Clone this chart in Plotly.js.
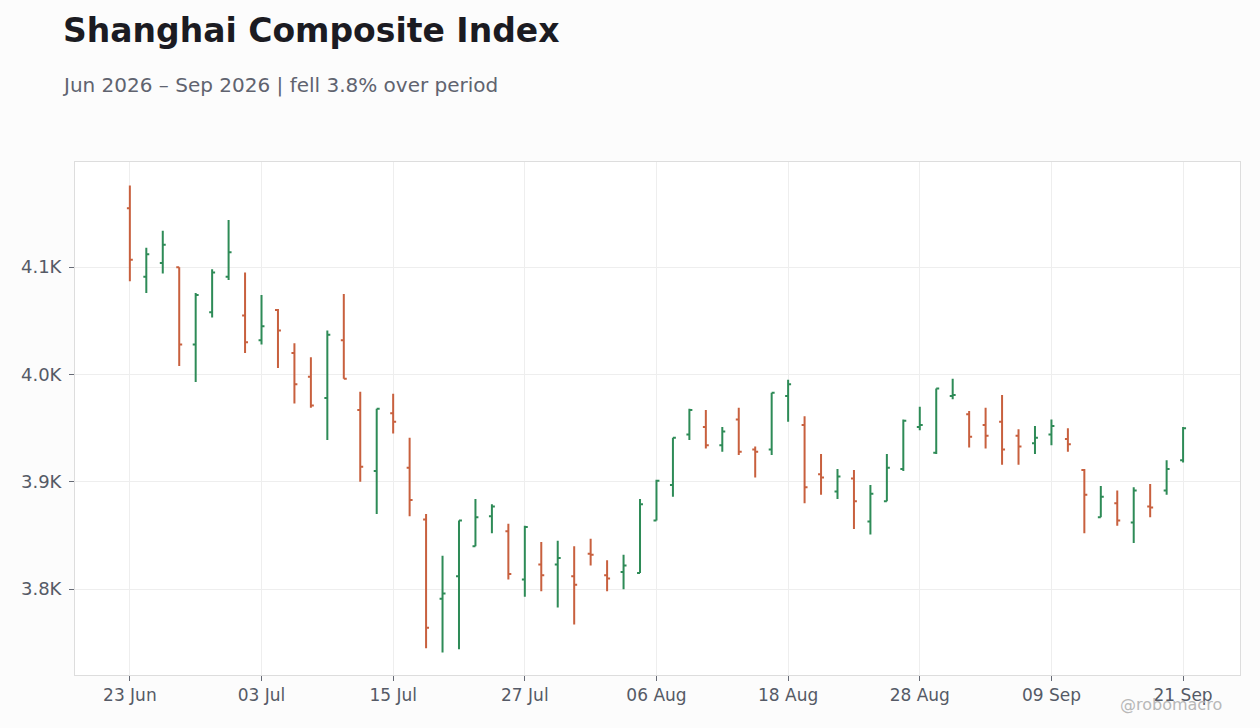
<!DOCTYPE html>
<html>
<head>
<meta charset="utf-8">
<script src="https://cdn.plot.ly/plotly-3.0.1.min.js"></script>
<style>
  html, body { margin: 0; padding: 0; background: #fcfcfc; }
  #chart { width: 1260px; height: 728px; }
</style>
</head>
<body>
<div id="chart"></div>
<script>
// trading days (weekdays only)
const dates = [
  '2026-06-23','2026-06-24','2026-06-25','2026-06-26','2026-06-29','2026-06-30',
  '2026-07-01','2026-07-02','2026-07-03','2026-07-06','2026-07-07','2026-07-08','2026-07-09','2026-07-10',
  '2026-07-13','2026-07-14','2026-07-15','2026-07-16','2026-07-17','2026-07-20','2026-07-21','2026-07-22',
  '2026-07-23','2026-07-24','2026-07-27','2026-07-28','2026-07-29','2026-07-30','2026-07-31',
  '2026-08-03','2026-08-04','2026-08-05','2026-08-06','2026-08-07','2026-08-10','2026-08-11','2026-08-12',
  '2026-08-13','2026-08-14','2026-08-17','2026-08-18','2026-08-19','2026-08-20','2026-08-21','2026-08-24',
  '2026-08-25','2026-08-26','2026-08-27','2026-08-28','2026-08-31',
  '2026-09-01','2026-09-02','2026-09-03','2026-09-04','2026-09-07','2026-09-08','2026-09-09','2026-09-10',
  '2026-09-11','2026-09-14','2026-09-15','2026-09-16','2026-09-17','2026-09-18','2026-09-21'
];

const openVals = [
  4155, 4091, 4104, 4100, 4028, 4058, 4091, 4055, 4032, 4060,
  4020, 3998, 3978, 4032, 3967, 3910, 3964, 3913, 3865, 3791,
  3812, 3840, 3868, 3854, 3809, 3823, 3823, 3812, 3833, 3813,
  3816, 3815, 3864, 3897, 3944, 3951, 3934, 3958, 3930, 3930,
  3980, 3953, 3907, 3891, 3903, 3863, 3882, 3912, 3951, 3927,
  3980, 3963, 3953, 3956, 3943, 3936, 3944, 3940, 3911, 3867,
  3880, 3862, 3877, 3892, 3920
];
const highVals = [
  4176, 4118, 4134, 4100, 4076, 4098, 4144, 4095, 4074, 4061,
  4029, 4016, 4041, 4075, 3984, 3968, 3982, 3941, 3870, 3831,
  3864, 3884, 3879, 3861, 3859, 3844, 3845, 3840, 3847, 3827,
  3832, 3884, 3902, 3941, 3968, 3967, 3951, 3969, 3933, 3983,
  3995, 3961, 3926, 3912, 3911, 3897, 3926, 3958, 3970, 3987,
  3996, 3966, 3969, 3981, 3949, 3952, 3958, 3950, 3912, 3896,
  3892, 3895, 3898, 3920, 3951
];
const lowVals = [
  4087, 4076, 4094, 4008, 3993, 4053, 4088, 4020, 4028, 4006,
  3973, 3969, 3939, 3996, 3900, 3870, 3945, 3868, 3745, 3741,
  3744, 3840, 3852, 3809, 3793, 3798, 3783, 3767, 3822, 3798,
  3800, 3815, 3864, 3886, 3939, 3931, 3928, 3925, 3904, 3925,
  3956, 3880, 3888, 3884, 3856, 3851, 3882, 3910, 3948, 3926,
  3977, 3932, 3931, 3916, 3916, 3926, 3934, 3928, 3852, 3867,
  3859, 3843, 3867, 3888, 3918
];
const closeVals = [
  4107, 4112, 4121, 4028, 4074, 4095, 4114, 4030, 4045, 4041,
  3991, 3971, 4037, 3996, 3914, 3968, 3956, 3883, 3764, 3796,
  3864, 3867, 3877, 3814, 3858, 3813, 3829, 3804, 3832, 3810,
  3822, 3879, 3901, 3941, 3967, 3934, 3947, 3928, 3928, 3983,
  3991, 3895, 3904, 3905, 3882, 3889, 3913, 3957, 3953, 3987,
  3981, 3942, 3943, 3930, 3933, 3941, 3952, 3935, 3888, 3886,
  3864, 3892, 3876, 3912, 3950
];

// axis ticks
const xTickDates = ['2026-06-23','2026-07-03','2026-07-15','2026-07-27','2026-08-06',
                    '2026-08-18','2026-08-28','2026-09-09','2026-09-21'];
const yTickVals = [3800, 3900, 4000, 4100];
const yTickText = ['3.8K', '3.9K', '4.0K', '4.1K'];

const trace = {
  type: 'ohlc',
  x: dates,
  open: openVals,
  high: highVals,
  low: lowVals,
  close: closeVals,
  tickwidth: 0.18,
  increasing: { line: { color: '#2e8b57', width: 2 } },
  decreasing: { line: { color: '#c8603e', width: 2 } },
  hoverinfo: 'x+y'
};

const font = 'DejaVu Sans, sans-serif';

const layout = {
  width: 1260,
  height: 728,
  paper_bgcolor: '#fcfcfc',
  plot_bgcolor: '#ffffff',
  margin: { l: 75, r: 20, t: 162, b: 53 },
  font: { family: font, color: '#555a66', size: 17 },
  showlegend: false,
  title: {
    text: '<b>Shanghai Composite Index</b>',
    font: { family: font, size: 33, color: '#1b1b22' },
    xref: 'container', x: 63 / 1260, xanchor: 'left',
    yref: 'container', y: 1 - 30 / 728, yanchor: 'middle'
  },
  xaxis: {
    type: 'date',
    range: ['2026-06-17 16:00', '2026-09-24 11:00'],
    rangebreaks: [{ bounds: ['sat', 'mon'] }],
    rangeslider: { visible: false },
    tickvals: xTickDates,
    tickformat: '%d %b',
    ticks: 'outside', ticklen: 5, tickcolor: '#666a75',
    showgrid: true, gridcolor: '#eeeeee',
    showline: true, mirror: true, linecolor: '#dddddd', linewidth: 1,
    zeroline: false,
    tickfont: { family: font, size: 17, color: '#555a66' }
  },
  yaxis: {
    range: [3720, 4198],
    tickvals: yTickVals,
    ticktext: yTickText,
    ticks: 'outside', ticklen: 5, tickcolor: '#666a75',
    ticklabelstandoff: 4,
    showgrid: true, gridcolor: '#eeeeee',
    showline: true, mirror: true, linecolor: '#dddddd', linewidth: 1,
    zeroline: false,
    tickfont: { family: font, size: 18, color: '#555a66' }
  },
  annotations: [
    {
      text: 'Jun 2026 – Sep 2026 | fell 3.8% over period',
      xref: 'paper', yref: 'paper',
      x: (60 - 75) / 1165, y: (675 - 85) / 513,
      xanchor: 'left', yanchor: 'middle',
      showarrow: false,
      font: { family: font, size: 20, color: '#60636f' }
    },
    {
      text: '@robomacro',
      xref: 'paper', yref: 'paper',
      x: (1224 - 75) / 1165, y: (675 - 705) / 513,
      xanchor: 'right', yanchor: 'middle',
      showarrow: false,
      font: { family: font, size: 16, color: '#b8b8b8' }
    }
  ]
};

Plotly.newPlot('chart', [trace], layout, { displayModeBar: false, staticPlot: true });
</script>
</body>
</html>
